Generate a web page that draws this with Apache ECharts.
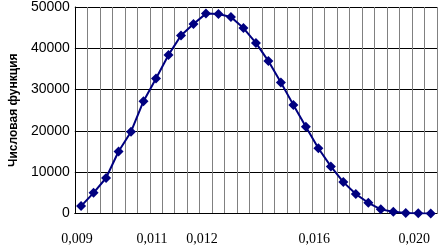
<!DOCTYPE html>
<html>
<head>
<meta charset="utf-8">
<script src="https://cdn.jsdelivr.net/npm/echarts@6/dist/echarts.min.js"></script>
<style>
html,body{margin:0;padding:0;background:#fff;}
#chart{width:439px;height:247px;}
</style>
</head>
<body>
<div id="chart"></div>
<script>
// Category tick labels (only some categories are labelled in the original)
const categories = ["0,009","","","","","","0,011","","","","0,012","","","","","","","","","0,016","","","","","","","","0,020",""];
// Series values (числовая функция)
const values = [1800, 5000, 8600, 15000, 19800, 27200, 32700, 38400, 43100, 45900, 48400, 48300, 47600, 44900, 41300, 36900, 31700, 26300, 21000, 15800, 11400, 7600, 4700, 2600, 1000, 400, 150, 50, 20];
// Y axis
const yMin = 0, yMax = 50000, yStep = 10000;
const yTitle = "Числовая функция";

const chart = echarts.init(document.getElementById('chart'), null, {renderer:'canvas'});
chart.setOption({
  animation:false,
  backgroundColor:'#fff',
  grid:{left:67, right:2, top:5, bottom:33.5},
  xAxis:{
    type:'category',
    data:categories,
    boundaryGap:true,
    axisLine:{show:true, lineStyle:{color:'#000', width:1}},
    axisTick:{show:false},
    axisLabel:{interval:0, margin:19, color:'#000', fontFamily:'"Liberation Serif","Times New Roman",serif', fontSize:14, padding:[0,8,0,0]},
    splitLine:{show:true, interval:0, lineStyle:{color:'#808080', width:1}}
  },
  yAxis:{
    type:'value',
    min:yMin, max:yMax, interval:yStep,
    name:yTitle,
    nameLocation:'middle',
    nameGap:50,
    nameRotate:90,
    nameTextStyle:{color:'#000', fontFamily:'"Liberation Sans",Arial,sans-serif', fontSize:12, fontWeight:'bold'},
    axisLine:{show:true, lineStyle:{color:'#000', width:1}},
    axisTick:{show:false},
    axisLabel:{margin:5, color:'#000', fontFamily:'"Liberation Sans",Arial,sans-serif', fontSize:14, formatter:function(v){return String(v);}},
    splitLine:{show:true, lineStyle:{color:'#000', width:1}}
  },
  series:[{
    type:'line',
    data:values,
    symbol:'diamond',
    symbolSize:10,
    showAllSymbol:true,
    lineStyle:{color:'#000080', width:2},
    itemStyle:{color:'#000080'}
  }]
});
</script>
</body>
</html>
